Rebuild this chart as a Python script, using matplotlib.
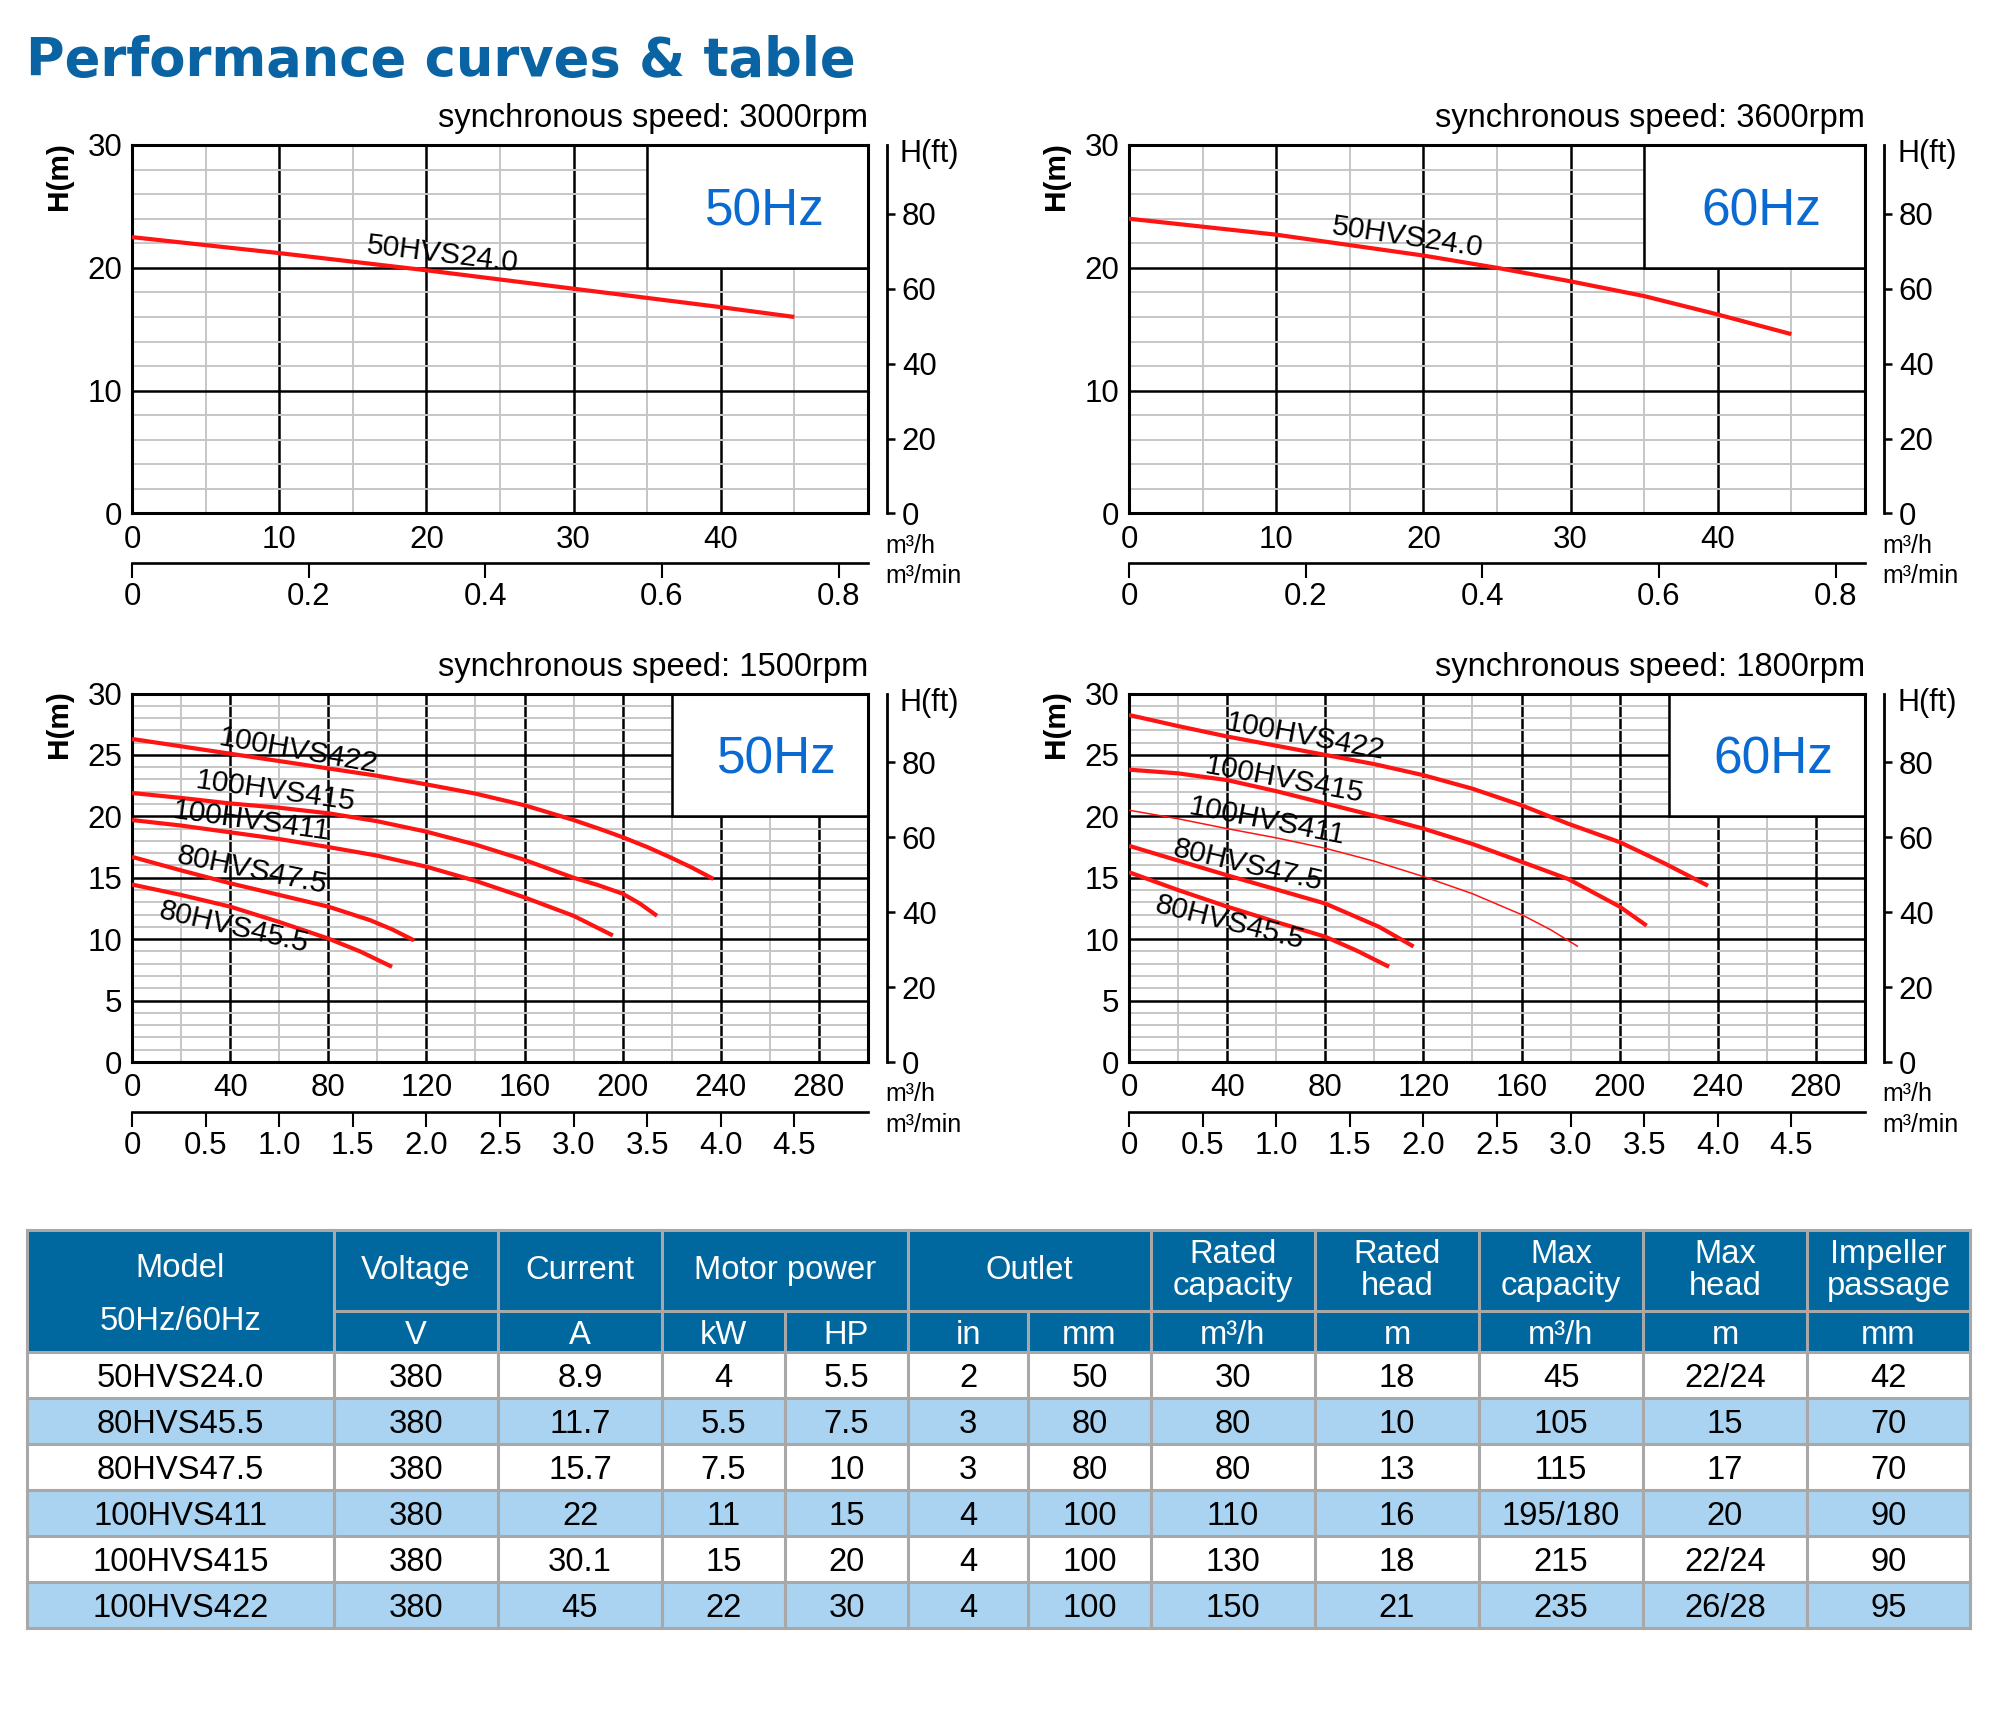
"""Pump performance curves (4 panels) + spec table."""
import matplotlib
matplotlib.use("Agg")
import matplotlib.pyplot as plt
from matplotlib.patches import Rectangle
import numpy as np

plt.rcParams["font.family"] = ["Liberation Sans", "DejaVu Sans"]

W, H = 1991, 1720
TITLE_BLUE = "#0a64a3"
HZ_BLUE = "#0b69d2"
RED = "#ff1414"
GRID_MINOR = "#c6c6c6"
HEAD_BG = "#00679f"
ROW_ALT = "#a9d3f0"
RULE = "#a8a8a8"
TICK_FS = 22.5

# ---- curves: flow Q (m3/h) -> head H (m)
# 3000 rpm / 50 Hz
q_3000 = [0, 10, 20, 30, 40, 45]
h_3000 = [22.5, 21.2, 19.8, 18.3, 16.8, 16.0]
# 3600 rpm / 60 Hz
q_3600 = [0, 10, 20, 25, 30, 35, 40, 45]
h_3600 = [24.0, 22.7, 21.0, 20.0, 18.9, 17.7, 16.2, 14.6]

# 1500 rpm / 50 Hz
q_1500_422 = [0, 20, 40, 60, 80, 100, 120, 140, 160, 170, 180, 191, 200, 210, 219, 228, 237]
h_1500_422 = [26.3, 25.7, 25.1, 24.5, 23.9, 23.3, 22.6, 21.85, 20.9, 20.3, 19.7, 18.95, 18.3, 17.5, 16.7, 15.85, 14.9]
q_1500_415 = [0, 20, 40, 60, 80, 100, 120, 140, 160, 180, 190, 200, 207, 214]
h_1500_415 = [21.9, 21.5, 21.05, 20.7, 20.25, 19.6, 18.75, 17.7, 16.45, 15.0, 14.4, 13.7, 12.9, 11.9]
q_1500_411 = [0, 20, 40, 60, 80, 100, 120, 140, 160, 180, 196]
h_1500_411 = [19.7, 19.25, 18.7, 18.15, 17.5, 16.8, 15.9, 14.75, 13.4, 11.9, 10.3]
q_1500_475 = [0, 20, 40, 60, 80, 97, 106, 115]
h_1500_475 = [16.7, 15.6, 14.55, 13.6, 12.65, 11.55, 10.8, 9.9]
q_1500_455 = [0, 20, 40, 60, 80, 93, 106]
h_1500_455 = [14.45, 13.6, 12.65, 11.4, 10.05, 9.0, 7.75]

# 1800 rpm / 60 Hz
q_1800_422 = [0, 20, 40, 60, 80, 100, 120, 140, 160, 179, 200, 218, 236]
h_1800_422 = [28.25, 27.35, 26.5, 25.75, 25.0, 24.25, 23.35, 22.25, 20.9, 19.4, 17.9, 16.2, 14.35]
q_1800_415 = [0, 20, 40, 60, 80, 100, 120, 140, 160, 179, 200, 211]
h_1800_415 = [23.8, 23.5, 22.95, 22.05, 21.05, 20.05, 19.0, 17.75, 16.3, 14.9, 12.65, 11.1]
q_1800_411 = [0, 20, 40, 60, 80, 100, 120, 140, 160, 172, 183]
h_1800_411 = [20.5, 19.8, 19.0, 18.25, 17.4, 16.35, 15.1, 13.7, 12.0, 10.75, 9.4]
q_1800_475 = [0, 20, 40, 60, 80, 102, 116]
h_1800_475 = [17.6, 16.4, 15.2, 14.05, 12.9, 11.0, 9.4]
q_1800_455 = [0, 20, 40, 60, 80, 93, 106]
h_1800_455 = [15.45, 14.0, 12.65, 11.4, 10.2, 9.05, 7.75]

# secondary flow axis labels (m3/min)
min_ticks_small = [0, 0.2, 0.4, 0.6, 0.8]
min_labels_small = ["0", "0.2", "0.4", "0.6", "0.8"]
min_ticks_big = [0, 0.5, 1.0, 1.5, 2.0, 2.5, 3.0, 3.5, 4.0, 4.5]
min_labels_big = ["0", "0.5", "1.0", "1.5", "2.0", "2.5", "3.0", "3.5", "4.0", "4.5"]
ft_ticks = [0, 20, 40, 60, 80]

# ---- table
models = ["50HVS24.0", "80HVS45.5", "80HVS47.5", "100HVS411", "100HVS415", "100HVS422"]
voltage = ["380", "380", "380", "380", "380", "380"]
current = ["8.9", "11.7", "15.7", "22", "30.1", "45"]
power_kw = ["4", "5.5", "7.5", "11", "15", "22"]
power_hp = ["5.5", "7.5", "10", "15", "20", "30"]
outlet_in = ["2", "3", "3", "4", "4", "4"]
outlet_mm = ["50", "80", "80", "100", "100", "100"]
rated_cap = ["30", "80", "80", "110", "130", "150"]
rated_head = ["18", "10", "13", "16", "18", "21"]
max_cap = ["45", "105", "115", "195/180", "215", "235"]
max_head = ["22/24", "15", "17", "20", "22/24", "26/28"]
impeller = ["42", "70", "70", "90", "90", "95"]
head_top = ["Voltage", "Current", "Motor power", "Outlet", "Rated\ncapacity",
            "Rated\nhead", "Max\ncapacity", "Max\nhead", "Impeller\npassage"]
head_units = ["V", "A", "kW", "HP", "in", "mm", "m³/h", "m", "m³/h", "m", "mm"]

fig = plt.figure(figsize=(W / 100, H / 100), dpi=100)
fig.patch.set_facecolor("white")


def px_rect(x0, y0, x1, y1):
    return [x0 / W, 1 - y1 / H, (x1 - x0) / W, (y1 - y0) / H]


def chart(rect, qmax, q_major, q_minor, h_major, h_minor, box_q,
          mticks, mlabels, speed, hz, curves, labels):
    ax = fig.add_axes(rect)
    ax.set_xlim(0, qmax)
    ax.set_ylim(0, 30)
    ax.set_xticks(np.arange(0, qmax, q_major))
    ax.set_xticks(np.arange(0, qmax + 0.01, q_minor), minor=True)
    ax.set_yticks(np.arange(0, 30.01, h_major))
    ax.set_yticks(np.arange(0, 30.01, h_minor), minor=True)
    ax.set_axisbelow(True)
    ax.grid(which="minor", color=GRID_MINOR, linewidth=1.4)
    ax.grid(which="major", color="black", linewidth=1.8)
    ax.tick_params(which="both", length=0, labelsize=TICK_FS)
    ax.tick_params(axis="x", pad=8)
    ax.tick_params(axis="y", pad=7)
    for s in ax.spines.values():
        s.set_linewidth(2.2)

    ax.add_patch(Rectangle((box_q, 20), qmax - box_q, 10, facecolor="white",
                           edgecolor="black", linewidth=1.8, zorder=1.5))
    ax.annotate(hz, xy=((box_q + qmax) / 2, 25), xytext=(5, 0),
                textcoords="offset points", ha="center", va="center_baseline",
                fontsize=37, color=HZ_BLUE, zorder=4)

    for (q, h, lw) in curves:
        ax.plot(q, h, color=RED, linewidth=lw, solid_capstyle="butt", zorder=3)
    for (txt, lq, lh, rot) in labels:
        ax.text(lq, lh, txt, fontsize=21.5, rotation=rot, rotation_mode="anchor",
                ha="center", va="center", zorder=4)

    # head in feet on the right
    sec = ax.secondary_yaxis(1 + 18.5 / 736,
                             functions=(lambda m: m / 0.3048, lambda f: f * 0.3048))
    sec.set_yticks(ft_ticks)
    sec.tick_params(direction="out", length=6, width=1.8, pad=5, labelsize=TICK_FS)
    sec.spines["right"].set_linewidth(2.0)
    ax.text(1 + 32 / 736, 1 - 9 / 368.5, "H(ft)", transform=ax.transAxes,
            ha="left", va="center", fontsize=22)

    # flow in m3/min below
    secx = ax.secondary_xaxis(-49.5 / 368.5,
                              functions=(lambda q: q / 60, lambda v: v * 60))
    secx.set_xticks(mticks, labels=mlabels)
    secx.tick_params(direction="out", length=11, width=1.5, pad=3, labelsize=TICK_FS)
    secx.spines["bottom"].set_linewidth(1.9)

    ax.text(1 + 17 / 736, -0.088, "m³/h", transform=ax.transAxes,
            ha="left", va="center", fontsize=18)
    ax.text(1 + 17 / 736, -0.170, "m³/min", transform=ax.transAxes,
            ha="left", va="center", fontsize=18)
    ax.text(-73 / 736, 1 - 31 / 368.5, "H(m)", transform=ax.transAxes,
            rotation=90, ha="center", va="center", fontsize=21.5, fontweight="bold")
    ax.text(1, 1 + 17.5 / 368.5, speed, transform=ax.transAxes,
            ha="right", va="baseline", fontsize=23.5)
    return ax


fig.text(26 / W, 1 - 75.5 / H, "Performance curves & table", fontsize=38,
         fontweight="bold", family="DejaVu Sans", color=TITLE_BLUE, va="baseline")

chart(px_rect(132, 145, 868, 513.5), 50, 10, 5, 10, 2, 35,
      min_ticks_small, min_labels_small, "synchronous speed: 3000rpm", "50Hz",
      [(q_3000, h_3000, 3.0)],
      [("50HVS24.0", 21.1, 21.1, -7)])
chart(px_rect(1129, 145, 1865, 513.5), 50, 10, 5, 10, 2, 35,
      min_ticks_small, min_labels_small, "synchronous speed: 3600rpm", "60Hz",
      [(q_3600, h_3600, 3.0)],
      [("50HVS24.0", 18.9, 22.5, -8.5)])
chart(px_rect(132, 693.5, 868, 1062), 300, 40, 20, 5, 1, 220,
      min_ticks_big, min_labels_big, "synchronous speed: 1500rpm", "50Hz",
      [(q_1500_422, h_1500_422, 3.0), (q_1500_415, h_1500_415, 3.0),
       (q_1500_411, h_1500_411, 3.0), (q_1500_475, h_1500_475, 3.0),
       (q_1500_455, h_1500_455, 3.0)],
      [("100HVS422", 67.7, 25.3, -10), ("100HVS415", 58.7, 22.0, -8),
       ("100HVS411", 48.8, 19.6, -8), ("80HVS47.5", 49.0, 15.6, -11.5),
       ("80HVS45.5", 41.4, 11.0, -13)])
chart(px_rect(1129, 693.5, 1865, 1062), 300, 40, 20, 5, 1, 220,
      min_ticks_big, min_labels_big, "synchronous speed: 1800rpm", "60Hz",
      [(q_1800_422, h_1800_422, 3.0), (q_1800_415, h_1800_415, 3.0),
       (q_1800_411, h_1800_411, 1.1), (q_1800_475, h_1800_475, 3.0),
       (q_1800_455, h_1800_455, 3.0)],
      [("100HVS422", 71.7, 26.5, -10.5), ("100HVS415", 63.2, 23.0, -10.5),
       ("100HVS411", 56.2, 19.6, -11), ("80HVS47.5", 48.4, 16.0, -13),
       ("80HVS45.5", 40.9, 11.3, -14)])

# ---- table, drawn in pixel space
tab = fig.add_axes([0, 0, 1, 1])
tab.set_xlim(0, W)
tab.set_ylim(H, 0)
tab.axis("off")
cols = [27, 334, 498, 662, 785, 908, 1028, 1151, 1315, 1479, 1643, 1807, 1970]
y_top, y_mid, y_head, row_h = 1230, 1311, 1352, 46
n_rows = len(models)
y_bot = y_head + n_rows * row_h
FS = 23.6

tab.add_patch(Rectangle((cols[0], y_top), cols[-1] - cols[0], y_head - y_top,
                        facecolor=HEAD_BG, edgecolor="none"))
for i in range(n_rows):
    tab.add_patch(Rectangle((cols[0], y_head + i * row_h), cols[-1] - cols[0], row_h,
                            facecolor="white" if i % 2 == 0 else ROW_ALT,
                            edgecolor="none"))

lw = 2.2
for y in [y_top, y_head] + [y_head + i * row_h for i in range(1, n_rows + 1)]:
    tab.plot([cols[0], cols[-1]], [y, y], color=RULE, linewidth=lw, solid_capstyle="projecting")
tab.plot([cols[1], cols[-1]], [y_mid, y_mid], color=RULE, linewidth=lw)
for j, x in enumerate(cols):
    top = y_mid if j in (4, 6) else y_top
    tab.plot([x, x], [top, y_bot], color=RULE, linewidth=lw, solid_capstyle="projecting")

# header
tab.text((cols[0] + cols[1]) / 2, 1265, "Model", color="white", fontsize=FS,
         ha="center", va="center_baseline")
tab.text((cols[0] + cols[1]) / 2, 1318, "50Hz/60Hz", color="white", fontsize=FS,
         ha="center", va="center_baseline")
spans = [(1, 2), (2, 3), (3, 5), (5, 7), (7, 8), (8, 9), (9, 10), (10, 11), (11, 12)]
for txt, (a, b) in zip(head_top, spans):
    tab.text((cols[a] + cols[b]) / 2, (y_top + y_mid) / 2, txt, color="white",
             fontsize=FS, ha="center", va="center", linespacing=1.05)
for j, txt in enumerate(head_units):
    tab.text((cols[j + 1] + cols[j + 2]) / 2, (y_mid + y_head) / 2 + 1, txt,
             color="white", fontsize=FS, ha="center", va="center_baseline")

table_cols = [models, voltage, current, power_kw, power_hp, outlet_in, outlet_mm,
              rated_cap, rated_head, max_cap, max_head, impeller]
for j, col in enumerate(table_cols):
    for i, val in enumerate(col):
        tab.text((cols[j] + cols[j + 1]) / 2, y_head + (i + 0.5) * row_h, val,
                 color="black", fontsize=FS, ha="center", va="center_baseline")

fig.savefig("out.png", dpi=100, facecolor="white")
